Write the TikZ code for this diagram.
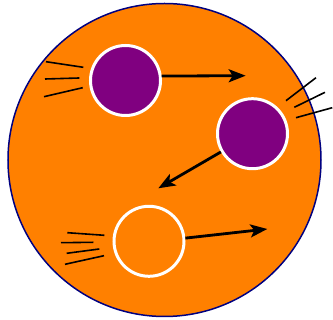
\documentclass[tikz,border=0pt]{standalone}
\usetikzlibrary{arrows.meta}
\definecolor{bigorange}{HTML}{FF8000}
\definecolor{ballpurple}{HTML}{800080}
\definecolor{bordernavy}{HTML}{000080}
\begin{document}
\begin{tikzpicture}[x=1pt,y=-1pt,
  ball/.style={circle,draw=white,line width=3pt,minimum size=70pt,inner sep=0pt},
  motion/.style={line width=2.8pt,-{Stealth[length=17pt,width=13pt,inset=4pt]}},
  streak/.style={line width=1.6pt}]
\useasboundingbox (0,0) rectangle (333,320);
\node[circle,draw=bordernavy,fill=bigorange,line width=1.5pt,minimum size=313pt,inner sep=0pt] (big) at (164.5,160) {};
\node[ball,fill=ballpurple] (c1) at (125.5,80.5) {};
\node[ball,fill=ballpurple] (c2) at (252.5,133.7) {};
\node[ball,fill=bigorange] (c3) at (149,241.3) {};
\coordinate (t1) at (245.7,75.7);
\coordinate (t2) at (158.3,188.3);
\coordinate (t3) at (267.3,229);
\draw[motion] (c1.7) -- (t1);
\draw[motion] (c2.210) -- (t2);
\draw[motion] (c3.5) -- (t3);
% streaks near ball 1
\draw[streak] (46,61.7) -- (83.3,67.3);
\draw[streak] (45,79) -- (79.3,78);
\draw[streak] (44,96.7) -- (82.7,87.7);
% streaks near ball 2
\draw[streak] (286,100.7) -- (316,77.7);
\draw[streak] (294.3,107.3) -- (325,92.3);
\draw[streak] (296,117.7) -- (332.3,107.7);
% streaks near ball 3
\draw[streak] (67.3,232.7) -- (104.3,235.3);
\draw[streak] (61,242.7) -- (93.3,242.3);
\draw[streak] (66.7,253.3) -- (99.3,249);
\draw[streak] (65,264.3) -- (104,255.7);
\end{tikzpicture}
\end{document}
